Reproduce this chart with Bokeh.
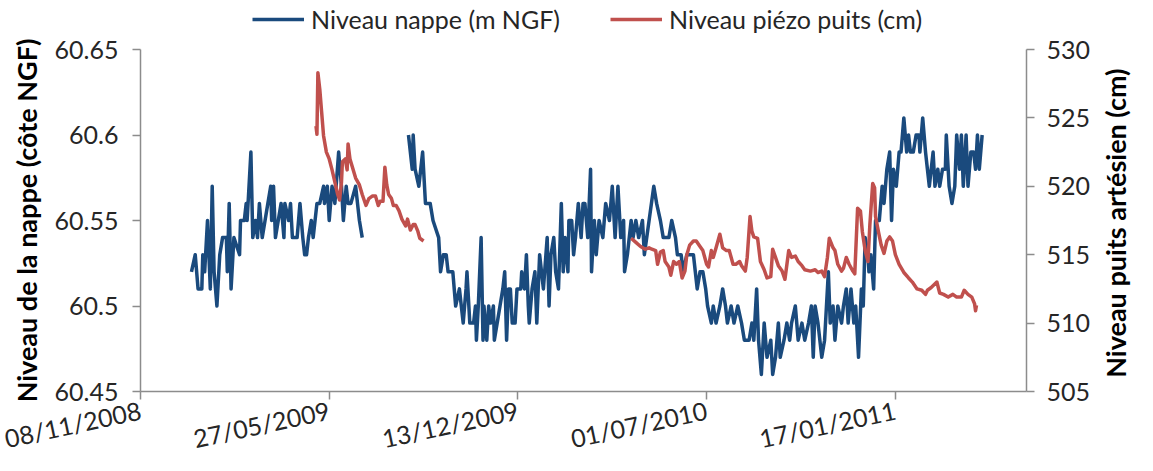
import json
import numpy as np
import pandas as pd
from bokeh.plotting import figure
from bokeh.layouts import column
from bokeh.models import (Range1d, LinearAxis, FixedTicker, DatetimeTickFormatter,
                          CustomJSTickFormatter, Legend, LegendItem)
from bokeh.embed import file_html
from bokeh.resources import INLINE

START = "2008-11-08"
X_END_DAYS = 939
X_TICK_DAYS = [0, 200, 400, 600, 800]

# Niveau nappe (m NGF) -- days since 08/11/2008, segment 1
blue_days_1 = [54, 58, 61, 65, 66, 68, 71, 74, 76, 78, 81, 84, 87, 91, 92, 94, 96, 99, 105, 106,
               110, 112, 113, 117, 119, 122, 124, 126, 129, 132, 135, 138, 139, 141, 143, 146, 149,
               152, 153, 157, 159, 161, 166, 169, 172, 174, 176, 178, 181, 183, 187, 190, 194, 195,
               198, 200, 203, 206, 210, 213, 215, 218, 220, 223, 228, 232, 235]
blue_vals_1 = [60.52, 60.53, 60.51, 60.51, 60.53, 60.52, 60.55, 60.51, 60.57, 60.52, 60.50, 60.53,
               60.54, 60.54, 60.52, 60.56, 60.51, 60.54, 60.53, 60.55, 60.55, 60.56, 60.55, 60.59,
               60.54, 60.55, 60.54, 60.56, 60.54, 60.55, 60.56, 60.57, 60.55, 60.57, 60.54, 60.55,
               60.56, 60.54, 60.56, 60.55, 60.56, 60.54, 60.54, 60.56, 60.54, 60.53, 60.53, 60.54,
               60.55, 60.54, 60.56, 60.56, 60.57, 60.56, 60.57, 60.55, 60.57, 60.56, 60.59, 60.57,
               60.55, 60.57, 60.56, 60.56, 60.57, 60.55, 60.54]

# Niveau nappe (m NGF) -- segment 2
blue_days_2 = [284, 288, 289, 291, 295, 299, 302, 307, 310, 316, 318, 321, 324, 326, 331, 334, 338,
               340, 342, 345, 346, 349, 353, 355, 356, 358, 361, 363, 364, 367, 369, 371, 374, 375,
               378, 381, 384, 386, 388, 390, 392, 394, 397, 399, 403, 404, 407, 409, 411, 412, 415,
               418, 420, 423, 425, 427, 431, 433, 435, 438, 440, 443, 446, 448, 450, 453, 454, 457,
               459, 461, 464, 467, 469, 471, 474, 477, 478, 481, 483, 486, 490, 493, 497, 500, 503,
               506, 509, 512, 513, 516, 520, 522, 525, 528, 532, 534, 539, 544, 547, 551, 554, 560,
               563, 567, 569, 573, 575, 579, 582, 586, 588, 590, 593, 596, 599, 601, 605, 607, 610,
               614, 617, 620, 622, 626, 629, 633, 637, 640, 645, 648, 650, 653, 655, 658, 661, 664,
               668, 670, 673, 676, 678, 682, 685, 688, 690, 694, 697, 701, 704, 708, 711, 713, 715,
               718, 722, 725, 729, 731, 734, 736, 739, 743, 745, 748, 750, 753, 756, 758, 761, 764,
               766, 768, 771, 772, 774, 777, 779, 783, 786, 788, 791, 794, 796, 798, 801, 804, 806,
               809, 812, 814, 816, 819, 822, 825, 826, 829, 832, 834, 836, 840, 842, 845, 847, 850,
               853, 854, 857, 860, 863, 865, 868, 870, 872, 875, 877, 880, 883, 885, 887, 889, 892]
blue_vals_2 = [60.60, 60.58, 60.60, 60.58, 60.57, 60.59, 60.56, 60.56, 60.55, 60.54, 60.52, 60.53,
               60.53, 60.52, 60.52, 60.50, 60.51, 60.50, 60.49, 60.51, 60.52, 60.49, 60.49, 60.50,
               60.48, 60.50, 60.54, 60.48, 60.50, 60.48, 60.50, 60.49, 60.50, 60.48, 60.49, 60.50,
               60.51, 60.52, 60.48, 60.51, 60.51, 60.49, 60.49, 60.51, 60.51, 60.52, 60.51, 60.53,
               60.50, 60.49, 60.51, 60.52, 60.49, 60.53, 60.52, 60.51, 60.54, 60.50, 60.53, 60.54,
               60.52, 60.51, 60.56, 60.52, 60.54, 60.52, 60.55, 60.55, 60.53, 60.54, 60.56, 60.54,
               60.56, 60.56, 60.54, 60.58, 60.52, 60.55, 60.53, 60.55, 60.54, 60.56, 60.55, 60.57,
               60.54, 60.57, 60.54, 60.55, 60.52, 60.53, 60.55, 60.54, 60.55, 60.54, 60.55, 60.53,
               60.55, 60.57, 60.56, 60.55, 60.54, 60.54, 60.55, 60.54, 60.53, 60.53, 60.52, 60.53,
               60.53, 60.53, 60.52, 60.51, 60.52, 60.52, 60.51, 60.50, 60.49, 60.50, 60.49, 60.50,
               60.51, 60.50, 60.49, 60.50, 60.49, 60.50, 60.49, 60.48, 60.48, 60.49, 60.48, 60.51,
               60.48, 60.46, 60.49, 60.47, 60.48, 60.46, 60.47, 60.49, 60.47, 60.48, 60.49, 60.48,
               60.49, 60.50, 60.48, 60.49, 60.48, 60.49, 60.50, 60.47, 60.50, 60.49, 60.47, 60.48,
               60.52, 60.49, 60.50, 60.48, 60.50, 60.49, 60.50, 60.51, 60.49, 60.51, 60.49, 60.50,
               60.47, 60.51, 60.50, 60.54, 60.53, 60.52, 60.53, 60.51, 60.55, 60.55, 60.57, 60.56,
               60.58, 60.59, 60.55, 60.58, 60.57, 60.59, 60.59, 60.61, 60.59, 60.60, 60.59, 60.59,
               60.60, 60.60, 60.59, 60.61, 60.59, 60.58, 60.57, 60.59, 60.57, 60.58, 60.57, 60.58,
               60.58, 60.60, 60.57, 60.56, 60.57, 60.60, 60.58, 60.60, 60.57, 60.60, 60.57, 60.59,
               60.59, 60.58, 60.60, 60.58, 60.60]

# Niveau piezo puits (cm) -- segment 1
red_days_1 = [186, 187, 188, 190, 192, 194, 197, 200, 203, 206, 209, 211, 213, 214, 217, 219, 220,
              222, 225, 228, 232, 235, 239, 242, 246, 249, 252, 254, 257, 259, 261, 263, 266, 268,
              271, 274, 277, 281, 283, 286, 289, 291, 294, 296, 300]
red_vals_1 = [524.4, 523.8, 528.3, 527.1, 525.4, 523.7, 522.5, 522.0, 521.2, 520.3, 519.4, 519.0,
              520.3, 521.8, 522.0, 521.2, 523.1, 522.0, 521.3, 520.6, 520.1, 519.4, 518.6, 519.1,
              519.3, 519.3, 518.6, 518.9, 518.9, 521.4, 520.1, 519.4, 519.1, 518.6, 518.6, 518.2,
              517.6, 517.1, 517.6, 516.8, 517.2, 517.2, 516.7, 516.2, 516.0]

# Niveau piezo puits (cm) -- segment 2
red_days_2 = [520, 525, 530, 535, 539, 542, 546, 548, 551, 554, 556, 560, 562, 565, 568, 571, 574,
              577, 579, 582, 586, 589, 593, 596, 600, 602, 605, 607, 610, 614, 617, 621, 624, 628,
              631, 635, 637, 641, 643, 646, 648, 650, 654, 657, 661, 664, 668, 670, 673, 676, 680,
              683, 687, 690, 694, 697, 701, 704, 710, 715, 718, 722, 725, 728, 730, 734, 736, 739,
              743, 745, 748, 751, 755, 757, 760, 763, 765, 768, 771, 773, 776, 778, 779, 782, 785,
              788, 791, 794, 797, 800, 804, 809, 814, 818, 823, 828, 832, 834, 838, 844, 847, 851,
              856, 861, 865, 870, 873, 877, 881, 884, 885, 886]
red_vals_2 = [516.2, 515.9, 515.6, 515.4, 515.5, 515.4, 515.3, 514.3, 515.2, 515.3, 514.5, 514.1,
              513.5, 514.5, 514.3, 514.5, 513.3, 513.8, 515.0, 515.7, 516.0, 516.0, 515.6, 515.3,
              514.3, 514.1, 515.3, 514.8, 515.5, 516.5, 515.5, 515.3, 515.3, 514.3, 514.3, 514.5,
              514.2, 513.8, 514.8, 517.8, 516.7, 516.3, 516.2, 514.5, 513.9, 513.3, 513.4, 515.4,
              514.8, 514.2, 513.8, 513.2, 515.3, 514.8, 514.9, 514.5, 514.2, 513.9, 513.8, 513.9,
              513.7, 513.8, 513.4, 514.8, 516.2, 515.5, 515.3, 514.3, 513.8, 514.0, 514.8, 514.3,
              513.8, 513.6, 518.4, 518.2, 516.7, 515.3, 514.5, 517.2, 520.2, 519.9, 517.8, 516.7,
              515.7, 515.1, 516.0, 516.3, 516.0, 515.0, 514.3, 513.7, 513.3, 513.0, 512.5, 512.4,
              512.1, 512.4, 512.6, 513.0, 512.2, 512.1, 511.9, 512.1, 511.9, 511.9, 512.4, 512.1,
              511.9, 511.4, 510.9, 511.3]

LEFT_RANGE = (60.45, 60.65)
LEFT_TICKS = [60.45, 60.5, 60.55, 60.6, 60.65]
RIGHT_RANGE = (505, 530)
RIGHT_TICKS = [505, 510, 515, 520, 525, 530]
LEFT_TITLE = "Niveau de la nappe (côte NGF)"
RIGHT_TITLE = "Niveau puits artésien (cm)"
SERIES_NAMES = ["Niveau nappe (m NGF)", "Niveau piézo puits (cm)"]

# layout constants
RIGHT_TITLE_START = 506          # right-scale level where the rotated right title begins
BLUE = "#1A4A7D"
RED = "#C0504D"
AXIS_GRAY = "#8C8C8C"
FONT = "Lato"
FS = "25px"
TITLE_FS = "27px"
W = 1151
LEGEND_H = 34
TOTAL_H = 470
LW = 3.5

t0 = pd.Timestamp(START)


def to_dates(days):
    return [t0 + pd.Timedelta(days=int(d)) for d in days]


def join(d1, v1, d2, v2):
    x = to_dates(d1) + [t0 + pd.Timedelta(days=int((d1[-1] + d2[0]) / 2))] + to_dates(d2)
    y = list(v1) + [np.nan] + list(v2)
    return x, y


bx, by = join(blue_days_1, blue_vals_1, blue_days_2, blue_vals_2)
rx, ry = join(red_days_1, red_vals_1, red_days_2, red_vals_2)

# ---- main chart ----
p = figure(width=W, height=TOTAL_H - LEGEND_H, x_axis_type="datetime",
           x_range=Range1d(t0, t0 + pd.Timedelta(days=X_END_DAYS)),
           y_range=Range1d(*LEFT_RANGE),
           output_backend="svg", toolbar_location=None,
           min_border_left=140, min_border_right=110, min_border_top=15, min_border_bottom=76)
p.extra_y_ranges = {"piezo": Range1d(*RIGHT_RANGE)}
p.outline_line_color = None
p.grid.visible = False

p.line(bx, by, line_color=BLUE, line_width=LW, line_join="round")
p.line(rx, ry, line_color=RED, line_width=LW, line_join="round", y_range_name="piezo")

right_axis = LinearAxis(y_range_name="piezo")
p.add_layout(right_axis, "right")

for ax in [p.xaxis[0], p.yaxis[0], right_axis]:
    ax.axis_line_color = AXIS_GRAY
    ax.axis_line_width = 1.5
    ax.major_tick_line_color = AXIS_GRAY
    ax.major_tick_line_width = 1.5
    ax.major_tick_out = 8
    ax.major_tick_in = 0
    ax.minor_tick_line_color = None
    ax.major_label_text_font = FONT
    ax.major_label_text_font_size = FS
    ax.major_label_text_color = "#262626"
    ax.major_label_text_line_height = 0.9
    ax.axis_label_text_font = FONT
    ax.axis_label_text_font_size = TITLE_FS
    ax.axis_label_text_font_style = "bold"
    ax.axis_label_text_color = "#000000"

p.xaxis[0].ticker = FixedTicker(ticks=[(t0 + pd.Timedelta(days=d)).value / 1e6 for d in X_TICK_DAYS])
p.xaxis[0].formatter = DatetimeTickFormatter(days="%d/%m/%Y", months="%d/%m/%Y", years="%d/%m/%Y")
p.xaxis[0].major_label_orientation = 0.21
p.xaxis[0].major_label_standoff = 10

p.yaxis[0].ticker = FixedTicker(ticks=LEFT_TICKS)
p.yaxis[0].formatter = CustomJSTickFormatter(code="return String(Math.round(tick*100)/100);")
p.yaxis[0].major_label_standoff = 14
p.yaxis[0].axis_label = LEFT_TITLE
p.yaxis[0].axis_label_standoff = 9

right_axis.ticker = FixedTicker(ticks=RIGHT_TICKS)
right_axis.major_label_standoff = 12

# right title: read bottom-to-top like the reference, carried by an outer right axis
title_axis = LinearAxis(y_range_name="piezo", ticker=FixedTicker(ticks=[RIGHT_TITLE_START]),
                        formatter=CustomJSTickFormatter(code="return %s;" % json.dumps(RIGHT_TITLE)),
                        axis_line_color=None, major_tick_line_color=None,
                        minor_tick_line_color=None, major_tick_out=0, major_tick_in=0,
                        major_label_orientation=float(np.pi / 2), major_label_standoff=22,
                        major_label_text_font=FONT, major_label_text_font_size=TITLE_FS,
                        major_label_text_font_style="bold", major_label_text_color="#000000")
p.add_layout(title_axis, "right")

# ---- legend strip above the chart ----
lf = figure(width=W, height=LEGEND_H, x_range=Range1d(0, 1), y_range=Range1d(0, 1),
            output_backend="svg", toolbar_location=None,
            min_border_left=0, min_border_right=0, min_border_top=0, min_border_bottom=0)
lf.axis.visible = False
lf.grid.visible = False
lf.outline_line_color = None
# legend-only renderers, drawn outside the strip's visible range
lb = lf.line([-10, -9], [-10, -9], line_color=BLUE, line_width=LW)
lr = lf.line([-10, -9], [-10, -9], line_color=RED, line_width=LW)
legend = Legend(items=[LegendItem(label=SERIES_NAMES[0], renderers=[lb]),
                       LegendItem(label=SERIES_NAMES[1], renderers=[lr])],
                orientation="horizontal", location=(112, 0),
                border_line_color=None, background_fill_alpha=0,
                label_text_font=FONT, label_text_font_size=FS, label_text_color="#262626",
                glyph_width=52, glyph_height=20, label_standoff=7, spacing=50,
                padding=0, margin=0)
lf.add_layout(legend, "center")

layout = column(lf, p, spacing=0)
open("out.html", "w").write(file_html(layout, INLINE))
